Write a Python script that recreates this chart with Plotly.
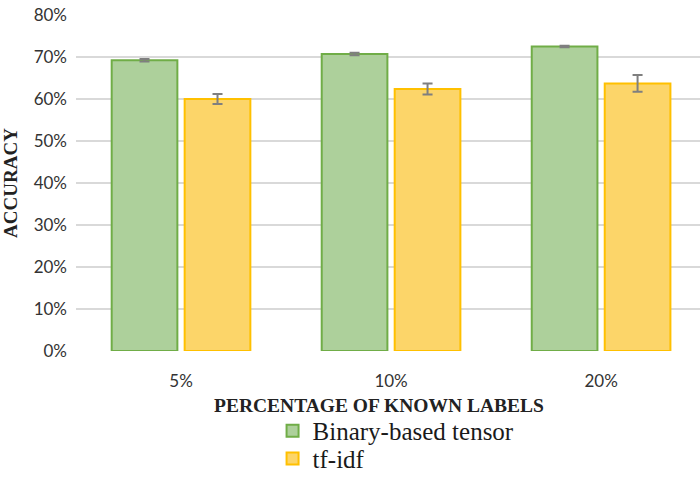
import plotly.graph_objects as go

categories = ["5%", "10%", "20%"]
binary_tensor = [0.692, 0.707, 0.725]
binary_tensor_err = [0.003, 0.003, 0.002]
tfidf = [0.600, 0.624, 0.637]
tfidf_err = [0.012, 0.013, 0.020]
y_ticks = [0, 0.1, 0.2, 0.3, 0.4, 0.5, 0.6, 0.7, 0.8]

fig = go.Figure()
fig.add_trace(go.Bar(
    x=categories, y=binary_tensor, name="Binary-based tensor", legend="legend",
    marker=dict(color="#add09b", line=dict(color="#70ad47", width=2)),
    error_y=dict(type="data", array=binary_tensor_err, color="#7f7f7f", thickness=2, width=5),
))
fig.add_trace(go.Bar(
    x=categories, y=tfidf, name="tf-idf", legend="legend2",
    marker=dict(color="#fcd569", line=dict(color="#ffc000", width=2)),
    error_y=dict(type="data", array=tfidf_err, color="#7f7f7f", thickness=2, width=5),
))

legend_font = dict(family="Liberation Serif", size=25, color="#1a1a1a")
fig.update_layout(
    width=700, height=477,
    margin=dict(l=76, r=0, t=15, b=126, autoexpand=False),
    paper_bgcolor="white", plot_bgcolor="white",
    barmode="group", bargap=0.305, bargroupgap=0.1,
    showlegend=True,
    legend=dict(x=0.315, xanchor="left", y=-0.238, yanchor="middle",
                font=legend_font, itemsizing="constant", bgcolor="rgba(0,0,0,0)"),
    legend2=dict(x=0.315, xanchor="left", y=-0.321, yanchor="middle",
                 font=legend_font, itemsizing="constant", bgcolor="rgba(0,0,0,0)"),
    font=dict(family="Lato", color="#333333"),
    annotations=[dict(
        text="<b>PERCENTAGE OF KNOWN LABELS</b>", xref="paper", yref="paper",
        x=0.486, y=-0.163, xanchor="center", yanchor="middle", showarrow=False,
        font=dict(family="Liberation Serif", size=19.5, color="#222222"),
    )],
)
fig.update_xaxes(
    range=[-0.5, 2.471], showgrid=False, showline=False, ticks="",
    automargin=False, ticklabelstandoff=18,
    tickfont=dict(family="Lato", size=17, color="#333333"),
)
fig.update_yaxes(
    range=[0, 0.8], tickvals=y_ticks, tickformat=".0%",
    showgrid=True, gridcolor="#d9d9d9", gridwidth=2,
    zeroline=False, showline=False, ticks="", automargin=False,
    ticklabelstandoff=8,
    tickfont=dict(family="Lato", size=17, color="#333333"),
    title=dict(text="<b>ACCURACY</b>", standoff=12,
               font=dict(family="Liberation Serif", size=19, color="#222222")),
)

fig.write_html("out.html")
